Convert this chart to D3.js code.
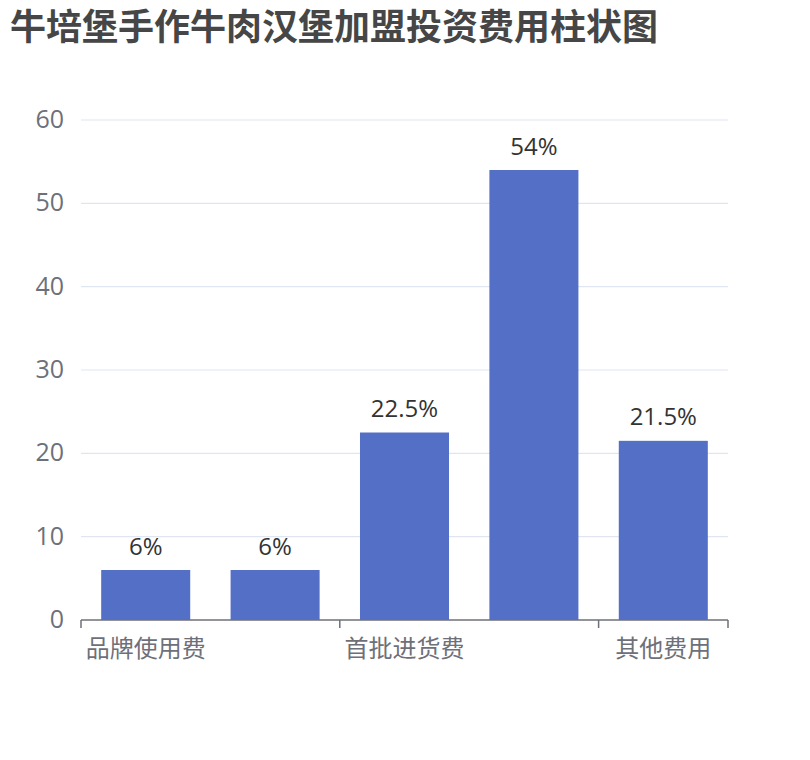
<!DOCTYPE html>
<html><head><meta charset="utf-8">
<script src="https://cdn.jsdelivr.net/npm/d3@7/dist/d3.min.js"></script>
<style>
html,body{margin:0;padding:0;background:#fff;}
svg{display:block;font-family:"Noto Sans CJK SC","Noto Sans",sans-serif;}
</style></head>
<body>
<svg id="chart" width="810" height="760"></svg>
<script>
const titleText = "牛培堡手作牛肉汉堡加盟投资费用柱状图";
const categories = ["品牌使用费", "加盟费", "首批进货费", "装修费用", "其他费用"];
const values = [6, 6, 22.5, 54, 21.5];
const valueLabels = ["6%", "6%", "22.5%", "54%", "21.5%"];
const yTicks = [0, 10, 20, 30, 40, 50, 60];
const labelInterval = 2;

(function () {
const svg = d3.select("#chart");
const gLeft = 81, gRight = 728, gTop = 120, gBottom = 620;

svg.append("text").attr("x", 10).attr("y", 40)
  .attr("font-size", 36).attr("font-weight", "bold").attr("fill", "#464646")
  .text(titleText);

const y = d3.scaleLinear().domain([0, 60]).range([gBottom, gTop]);
const slot = d3.scaleBand().domain(categories).range([gLeft, gRight]).padding(0);
const p = 0.312;
const x = d3.scaleBand().domain(categories).range([gLeft, gRight]).paddingInner(p).paddingOuter(p / 2);

// grid lines
svg.append("g").selectAll("line").data(yTicks.filter(d => d > 0)).join("line")
  .attr("x1", gLeft).attr("x2", gRight)
  .attr("y1", d => y(d)).attr("y2", d => y(d))
  .attr("stroke", "#E0E6F1").attr("stroke-width", 1.2);

// y labels
svg.append("g").selectAll("text").data(yTicks).join("text")
  .attr("x", gLeft - 17).attr("y", d => y(d) - 2)
  .attr("text-anchor", "end").attr("dominant-baseline", "central")
  .attr("font-size", 25).attr("fill", "#6E7079")
  .attr("font-family", "'Open Sans','Noto Sans',sans-serif")
  .text(d => d);

// bars
svg.append("g").selectAll("rect").data(values).join("rect")
  .attr("x", (d, i) => x(categories[i]))
  .attr("width", x.bandwidth())
  .attr("y", d => y(d))
  .attr("height", d => gBottom - y(d))
  .attr("fill", "#5470C6");

// value labels
svg.append("g").selectAll("text").data(values).join("text")
  .attr("x", (d, i) => x(categories[i]) + x.bandwidth() / 2)
  .attr("y", d => y(d) - 15.5)
  .attr("text-anchor", "middle")
  .attr("font-size", 24).attr("fill", "#333")
  .attr("font-family", "'Open Sans','Noto Sans',sans-serif")
  .text((d, i) => valueLabels[i]);

// x axis line
svg.append("line").attr("x1", gLeft).attr("x2", gRight)
  .attr("y1", gBottom).attr("y2", gBottom)
  .attr("stroke", "#6E7079").attr("stroke-width", 1.5);

// ticks at slot boundaries with interval
const tickPos = categories.map((c, i) => i).filter(i => i % labelInterval === 0).map(i => slot(categories[i]));
tickPos.push(gRight);
svg.append("g").selectAll("line").data(tickPos).join("line")
  .attr("x1", d => d).attr("x2", d => d)
  .attr("y1", gBottom).attr("y2", gBottom + 8)
  .attr("stroke", "#6E7079").attr("stroke-width", 1.5);

// x labels
svg.append("g").selectAll("text")
  .data(categories.filter((c, i) => i % labelInterval === 0)).join("text")
  .attr("x", d => slot(d) + slot.bandwidth() / 2)
  .attr("y", 646)
  .attr("text-anchor", "middle").attr("dominant-baseline", "central")
  .attr("font-size", 24).attr("fill", "#6E7079")
  .text(d => d);
})();
</script>
</body></html>
